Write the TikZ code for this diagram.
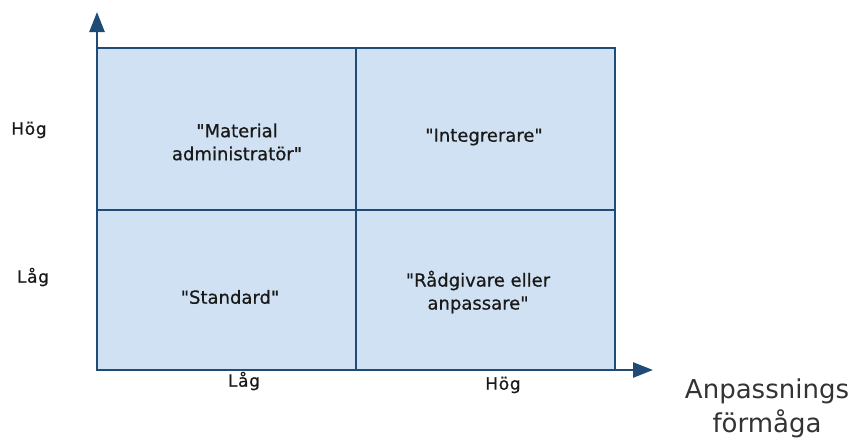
\documentclass[tikz,border=0pt]{standalone}
\usepackage{fontspec}
\setmainfont{DejaVu Sans}[Ligatures=TeXOff]
\usetikzlibrary{arrows.meta}
\definecolor{cellfill}{HTML}{CFE1F2}
\definecolor{gridline}{HTML}{1F4B76}
\tikzset{
  grid/.style={draw=gridline, line width=2.8pt},
  axis/.style={gridline, line width=2.6pt, -{Triangle[length=20pt,width=15pt]}},
  cell/.style={font=\fontsize{18}{23}\selectfont\addfontfeature{FakeBold=0.6}, align=center, text=black!90},
  tick/.style={font=\fontsize{17}{20}\selectfont\addfontfeature{LetterSpace=4,FakeBold=0.6}, text=black!90},
  title/.style={font=\fontsize{26}{34}\selectfont, align=center, text=black!80}
}
\begin{document}
\begin{tikzpicture}[x=1pt,y=-1pt]
  \useasboundingbox (0,0) rectangle (856,440);
  % quadrant grid
  \fill[cellfill] (97,48) rectangle (615,370);
  \draw[grid] (97,48) rectangle (615,370);
  \draw[grid] (356,48) -- (356,370);
  \draw[grid] (97,210) -- (615,210);
  % axes
  \coordinate (o) at (97,370);
  \coordinate (ytip) at (97,12);
  \coordinate (xtip) at (653,370);
  \draw[axis] (o) -- (ytip);
  \draw[axis] (o) -- (xtip);
  % quadrant labels
  \node[cell] (q1) at (237,142) {"Material\\administratör"};
  \node[cell] (q2) at (484,137) {"Integrerare"};
  \node[cell] (q3) at (230,297) {"Standard"};
  \node[cell] (q4) at (478,292) {"Rådgivare eller\\anpassare"};
  % axis ticks
  \node[tick] (yh) at (29,130) {Hög};
  \node[tick] (yl) at (33,277) {Låg};
  \node[tick] (xl) at (244,381) {Låg};
  \node[tick] (xh) at (503,385) {Hög};
  \node[title] (xt) at (767,408) {Anpassnings\\förmåga};
\end{tikzpicture}
\end{document}
